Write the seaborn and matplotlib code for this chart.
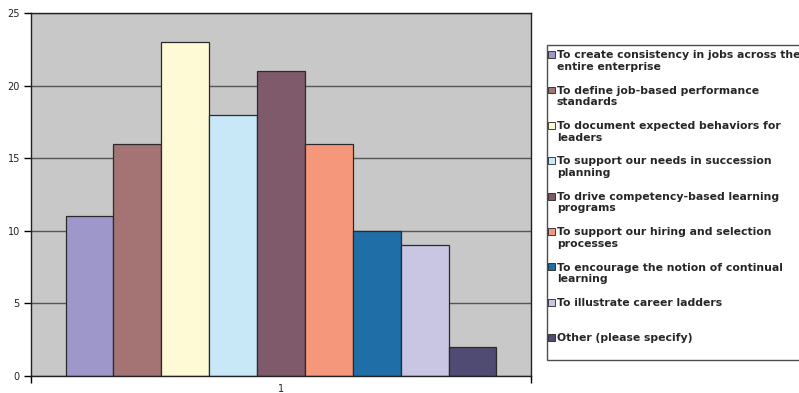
import matplotlib
matplotlib.use("Agg")
import matplotlib.pyplot as plt
import matplotlib.patches as mpatches
from matplotlib.legend_handler import HandlerPatch
import seaborn as sns
import pandas as pd

categories = ["1"]
reasons = [
    "To create consistency in jobs across the\nentire enterprise",
    "To define job-based performance\nstandards",
    "To document expected behaviors for\nleaders",
    "To support our needs in succession\nplanning",
    "To drive competency-based learning\nprograms",
    "To support our hiring and selection\nprocesses",
    "To encourage the notion of continual\nlearning",
    "To illustrate career ladders\n ",
    "Other (please specify)\n ",
]
counts = [11, 16, 23, 18, 21, 16, 10, 9, 2]
colors = ["#9D98C9", "#A47475", "#FFFAD6", "#C8E8F8", "#7F5A6B",
          "#F5977A", "#1F6EA7", "#C8C6E2", "#4F4B72"]
y_ticks = [0, 5, 10, 15, 20, 25]

df = pd.DataFrame({"group": categories * len(reasons), "reason": reasons, "count": counts})

sns.set_style("white")
plt.rcParams["font.family"] = ["DejaVu Sans"]

fig = plt.figure(figsize=(7.99, 3.93), dpi=100)
ax = fig.add_axes([31 / 799, 17 / 393, 500 / 799, 363 / 393])
ax.set_facecolor("#C8C8C8")

sns.barplot(data=df, x="group", y="count", hue="reason", palette=colors,
            hue_order=reasons, width=0.862, edgecolor="#2a2a2a", linewidth=0.9,
            saturation=1, ax=ax, legend=True)

ax.set_xlim(-0.5, 0.5)
ax.set_ylim(0, 25)
ax.set_yticks(y_ticks)
ax.set_yticklabels([str(v) for v in y_ticks], fontsize=7, color="#222222")
ax.yaxis.grid(True, color="#555555", linewidth=1.0)
ax.set_axisbelow(True)
ax.tick_params(axis="y", direction="out", length=5, width=1, color="black", left=True, pad=3)

ax.set_xticks([-0.5, 0.5])
ax.set_xticklabels(["", ""])
ax.set_xticks([0], minor=True)
ax.set_xticklabels(categories, minor=True, fontsize=7, color="#222222")
ax.tick_params(axis="x", which="major", direction="out", length=5, width=1, color="black", bottom=True)
ax.tick_params(axis="x", which="minor", length=0, pad=6)
ax.set_xlabel("")
ax.set_ylabel("")
for s in ax.spines.values():
    s.set_visible(True)
    s.set_color("#222222")
    s.set_linewidth(1.0)


def first_line_patch(legend, orig_handle, xdescent, ydescent, width, height, fontsize):
    shift_y = 0.62 * fontsize
    shift_x = -0.37 * fontsize
    return mpatches.Rectangle((-xdescent + shift_x, -ydescent + shift_y), width, height)


handles, labels = ax.get_legend_handles_labels()
ax.get_legend().remove()
leg = fig.legend(handles, labels, loc="upper left",
                 bbox_to_anchor=(547 / 799, 1 - 45 / 393), bbox_transform=fig.transFigure,
                 borderaxespad=0, frameon=True, fancybox=False, shadow=False,
                 prop={"weight": "bold", "size": 7.8}, handlelength=0.6, handleheight=0.6,
                 handletextpad=-0.2, labelspacing=1.27, borderpad=0.5, facecolor="white",
                 edgecolor="#222222",
                 handler_map={mpatches.Rectangle: HandlerPatch(patch_func=first_line_patch)})
leg.get_frame().set_linewidth(1.0)
for h in leg.legend_handles:
    h.set_edgecolor("#222222")
    h.set_linewidth(0.6)

fig.savefig("out.png", dpi=100, facecolor="white")
